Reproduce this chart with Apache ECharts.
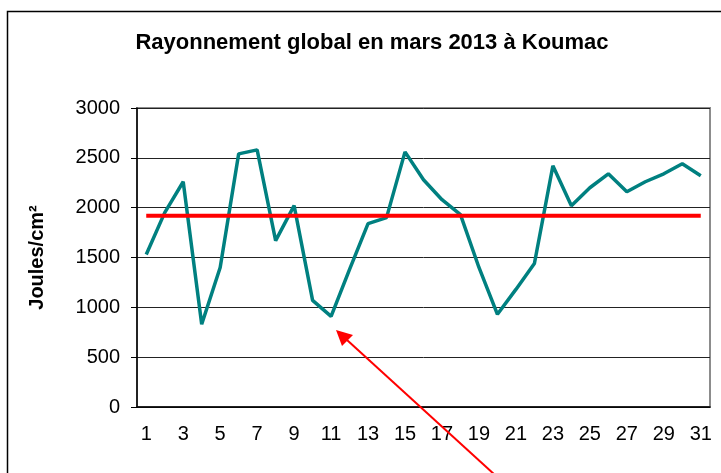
<!DOCTYPE html>
<html>
<head>
<meta charset="utf-8">
<script src="https://cdn.jsdelivr.net/npm/echarts@6/dist/echarts.min.js"></script>
<style>html,body{margin:0;padding:0;background:#fff;}#c{width:721px;height:473px;}</style>
</head>
<body>
<div id="c"></div>
<script>
var days = ['1','2','3','4','5','6','7','8','9','10','11','12','13','14','15','16','17','18','19','20','21','22','23','24','25','26','27','28','29','30','31'];
var rayonnement = [1530,1950,2260,830,1400,2540,2580,1670,2020,1070,910,1380,1840,1900,2560,2280,2080,1930,1400,930,1180,1440,2420,2020,2200,2340,2160,2260,2340,2440,2320];
var moyenne = [1920,1920,1920,1920,1920,1920,1920,1920,1920,1920,1920,1920,1920,1920,1920,1920,1920,1920,1920,1920,1920,1920,1920,1920,1920,1920,1920,1920,1920,1920,1920];
var yTicks = {min: 0, max: 3000, interval: 500};

var chart = echarts.init(document.getElementById('c'), null, {renderer: 'canvas'});
chart.setOption({
  backgroundColor: '#ffffff',
  animation: false,
  title: {
    text: 'Rayonnement global en mars 2013 à Koumac',
    left: 367, top: 27, textAlign: 'center',
    textStyle: {fontFamily: 'Liberation Sans, Arial', fontSize: 22, fontWeight: 'bold', color: '#000'}
  },
  grid: {left: 137, right: 11, top: 108, bottom: 66, show: true, borderColor: '#8c8c8c', borderWidth: 2, backgroundColor: 'transparent'},
  xAxis: {
    type: 'category', data: days, boundaryGap: true,
    axisLine: {lineStyle: {color: '#000', width: 1.5}},
    axisTick: {interval: 0, length: 5, lineStyle: {color: '#000'}},
    axisLabel: {interval: 1, margin: 17, fontFamily: 'Liberation Sans, Arial', fontSize: 20, color: '#000'},
    splitLine: {show: false}
  },
  yAxis: {
    type: 'value', min: yTicks.min, max: yTicks.max, interval: yTicks.interval,
    name: 'Joules/cm²', nameLocation: 'middle', nameGap: 90,
    nameTextStyle: {fontFamily: 'Liberation Sans, Arial', fontSize: 20, fontWeight: 'bold', color: '#000'},
    axisLine: {show: true, lineStyle: {color: '#000', width: 1.5}},
    axisTick: {show: true, length: 6, lineStyle: {color: '#000'}},
    axisLabel: {margin: 17, fontFamily: 'Liberation Sans, Arial', fontSize: 20, color: '#000', formatter: function (v) { return String(v); }},
    splitLine: {show: true, lineStyle: {color: '#222', width: 1}}
  },
  series: [
    {type: 'line', data: rayonnement, showSymbol: false, lineStyle: {color: '#008080', width: 3.5}, itemStyle: {color: '#008080'}, z: 3},
    {type: 'line', data: moyenne, showSymbol: false, lineStyle: {color: '#ff0000', width: 4}, itemStyle: {color: '#ff0000'}, z: 4}
  ],
  graphic: [
    {type: 'rect', shape: {x: 7.5, y: 11.5, width: 800, height: 600}, style: {fill: 'none', stroke: '#000', lineWidth: 1.5}, z: 100},
    {type: 'line', shape: {x1: 347, y1: 340, x2: 495, y2: 475}, style: {stroke: '#ff0000', lineWidth: 2}, z: 100},
    {type: 'polygon', shape: {points: [[336, 330], [342, 346], [353, 335]]}, style: {fill: '#ff0000'}, z: 100}
  ]
});
</script>
</body>
</html>
